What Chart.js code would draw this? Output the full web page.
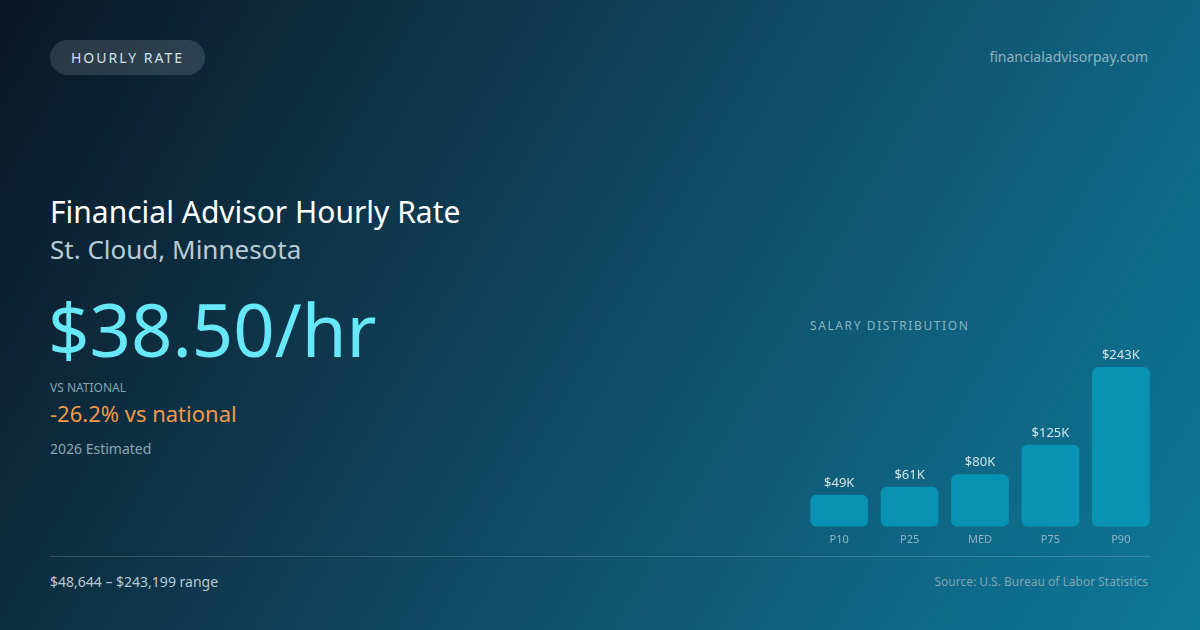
<!DOCTYPE html>
<html lang="en">
<head>
<meta charset="UTF-8">
<title>Financial Advisor Hourly Rate</title>
<style>
    body, html {
        margin: 0;
        width: 1200px;
        height: 630px;
        overflow: hidden;
        font-family: 'Noto Sans', 'Open Sans', sans-serif;
    }
    .card {
        position: relative;
        width: 1200px;
        height: 630px;
        background: linear-gradient(120deg, #0b1724 0%, #0f3e55 40%, #0f6380 75%, #0e7899 100%);
        color: #fff;
    }
    .abs { position: absolute; white-space: nowrap; line-height: 1; }
    .pill {
        left: 50px; top: 40px; height: 35px; padding: 0 21px;
        border-radius: 18px;
        background: rgba(255, 255, 255, 0.13);
        color: #d2e0e8; font-size: 14px; letter-spacing: 2px;
        display: flex; align-items: center;
    }
    .site { right: 52px; top: 50px; font-size: 14px; color: #8fb2c2; }
    .title { left: 50px; top: 197px; font-size: 30px; color: #ffffff; }
    .sub { left: 50px; top: 236px; font-size: 26px; color: #b8ccd6; }
    .big { left: 48px; top: 293px; font-size: 72.5px; color: #67e8f9; }
    .vslbl { left: 50px; top: 382px; font-size: 12px; color: #88a3b1; }
    .vs { left: 50px; top: 402px; font-size: 22px; color: #f0994a; }
    .est { left: 50px; top: 442px; font-size: 14px; color: #8ba6b3; }
    .dist { left: 810px; top: 320px; font-size: 12px; color: #8ab3c5; letter-spacing: 1.6px; }
    .rule { position: absolute; left: 50px; top: 556px; width: 1100px; height: 1px; background: rgba(255, 255, 255, 0.16); }
    .range { left: 50px; top: 575px; font-size: 14px; color: #b6cad4; }
    .src { right: 52px; top: 576px; font-size: 12px; color: #7ea4b5; }
    .chart-box { position: absolute; left: 804px; top: 337px; width: 352px; height: 207px; }
</style>
</head>
<body>
<div class="card">
    <div class="abs pill">HOURLY RATE</div>
    <div class="abs site">financialadvisorpay.com</div>
    <div class="abs title">Financial Advisor Hourly Rate</div>
    <div class="abs sub">St. Cloud, Minnesota</div>
    <div class="abs big">$38.50/hr</div>
    <div class="abs vslbl">VS NATIONAL</div>
    <div class="abs vs">-26.2% vs national</div>
    <div class="abs est">2026 Estimated</div>
    <div class="abs dist">SALARY DISTRIBUTION</div>
    <div class="chart-box"><canvas id="distChart"></canvas></div>
    <div class="rule"></div>
    <div class="abs range">$48,644 – $243,199 range</div>
    <div class="abs src">Source: U.S. Bureau of Labor Statistics</div>
</div>

<script src="https://cdn.jsdelivr.net/npm/chart.js"></script>
<script>
// salary percentiles, thousands of dollars
const percentiles = ['P10', 'P25', 'MED', 'P75', 'P90'];
const salariesK = [48.644, 61, 80.08, 125, 243.199];

// draws "$49K" etc. above each bar
const valueLabels = {
    id: 'valueLabels',
    afterDatasetsDraw(chart) {
        const ctx = chart.ctx;
        const meta = chart.getDatasetMeta(0);
        ctx.save();
        ctx.font = '13px "Noto Sans", sans-serif';
        ctx.fillStyle = '#d3e3ea';
        ctx.textAlign = 'center';
        ctx.textBaseline = 'bottom';
        meta.data.forEach((bar, i) => {
            ctx.fillText('$' + Math.round(salariesK[i]) + 'K', bar.x, bar.y - 5);
        });
        ctx.restore();
    }
};

const ctx = document.getElementById('distChart').getContext('2d');
new Chart(ctx, {
    type: 'bar',
    data: {
        labels: percentiles,
        datasets: [{
            data: salariesK,
            backgroundColor: 'rgba(8, 150, 182, 0.92)',
            borderRadius: 6,
            borderSkipped: false,
            barPercentage: 0.82,
            categoryPercentage: 1
        }]
    },
    options: {
        responsive: true,
        maintainAspectRatio: false,
        animation: false,
        layout: { padding: { top: 30 } },
        plugins: {
            legend: { display: false },
            tooltip: { enabled: false }
        },
        scales: {
            x: {
                grid: { display: false },
                border: { display: false },
                ticks: {
                    color: '#8fb3c4',
                    font: { family: 'Noto Sans', size: 11 },
                    padding: -2
                }
            },
            y: {
                display: false,
                beginAtZero: true,
                max: 243.199
            }
        }
    },
    plugins: [valueLabels]
});
</script>
</body>
</html>
